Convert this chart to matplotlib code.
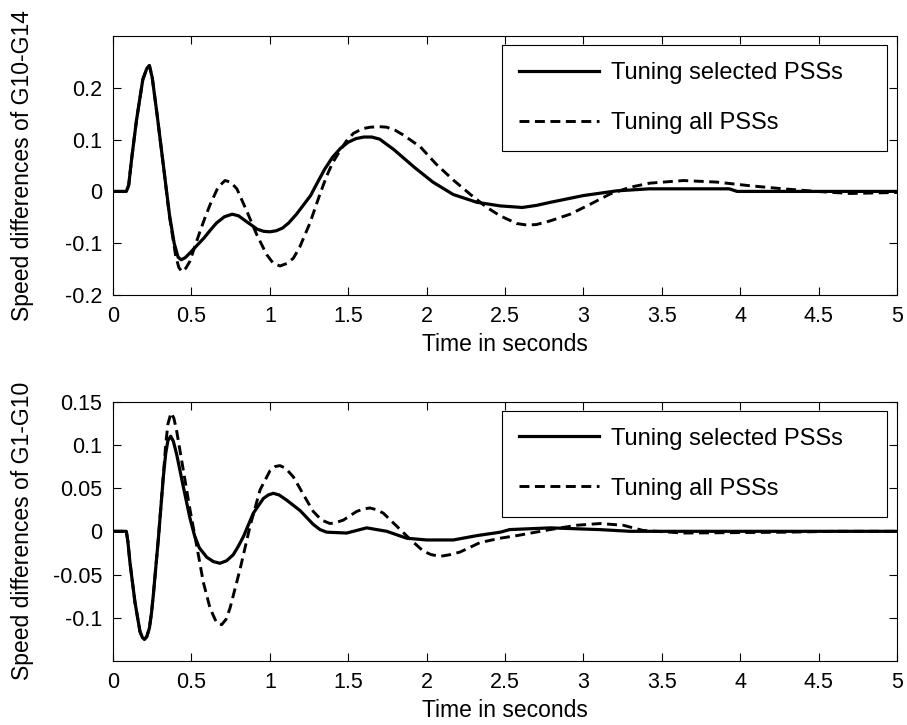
import matplotlib
matplotlib.use("Agg")
import matplotlib.pyplot as plt
from matplotlib.ticker import FuncFormatter

plt.rcParams['font.family'] = ['Liberation Sans', 'DejaVu Sans']
plt.rcParams['axes.unicode_minus'] = False

# Data
# G10-G14 (top panel)
t_sel_top = [0, 0.085, 0.10, 0.12, 0.15, 0.19, 0.215, 0.232, 0.25, 0.28, 0.32, 0.36, 0.39, 0.415,
             0.435, 0.46, 0.49, 0.53, 0.58, 0.62, 0.66, 0.71, 0.76, 0.80, 0.85, 0.92, 0.96, 1.00,
             1.04, 1.08, 1.12, 1.17, 1.21, 1.26, 1.30, 1.35, 1.40, 1.45, 1.50, 1.55, 1.60, 1.65,
             1.70, 1.79, 1.92, 2.04, 2.17, 2.32, 2.47, 2.61, 2.70, 2.79, 3.00, 3.21, 3.42, 3.93,
             3.98, 5.0]
y_sel_top = [0, 0, 0.012, 0.066, 0.138, 0.216, 0.237, 0.243, 0.22, 0.151, 0.053, -0.045, -0.100, -0.127,
             -0.132, -0.128, -0.119, -0.106, -0.090, -0.075, -0.061, -0.049, -0.044, -0.047, -0.058, -0.073, -0.077, -0.078,
             -0.076, -0.071, -0.061, -0.044, -0.028, -0.008, 0.015, 0.043, 0.066, 0.083, 0.095, 0.102, 0.105, 0.105,
             0.101, 0.081, 0.047, 0.018, -0.006, -0.021, -0.028, -0.031, -0.027, -0.021, -0.008, 0.001, 0.005, 0.005,
             0.0, 0.0]

t_all_top = [0, 0.085, 0.10, 0.12, 0.15, 0.19, 0.215, 0.232, 0.25, 0.28, 0.32, 0.36, 0.40, 0.42,
             0.44, 0.465, 0.49, 0.52, 0.555, 0.59, 0.62, 0.67, 0.714, 0.75, 0.79, 0.853, 0.916,
             0.98, 1.02, 1.065, 1.11, 1.15, 1.19, 1.256, 1.32, 1.363, 1.40, 1.448, 1.49, 1.533,
             1.59, 1.64, 1.70, 1.746, 1.80, 1.851, 1.96, 2.06, 2.17, 2.28, 2.38, 2.468, 2.575,
             2.64, 2.70, 2.787, 2.915, 3.042, 3.17, 3.297, 3.425, 3.637, 3.85, 4.06, 4.275, 4.488,
             4.70, 5.0]
y_all_top = [0, 0, 0.012, 0.066, 0.138, 0.216, 0.237, 0.243, 0.22, 0.151, 0.053, -0.048, -0.125, -0.147,
             -0.155, -0.148, -0.135, -0.108, -0.077, -0.048, -0.025, 0.008, 0.021, 0.018, 0.005, -0.038, -0.083,
             -0.122, -0.138, -0.144, -0.139, -0.129, -0.108, -0.061, -0.005, 0.030, 0.055, 0.079, 0.098, 0.112,
             0.121, 0.124, 0.125, 0.124, 0.118, 0.109, 0.086, 0.053, 0.022, -0.006, -0.030, -0.047, -0.062,
             -0.065, -0.064, -0.057, -0.044, -0.025, -0.005, 0.008, 0.016, 0.021, 0.018, 0.011, 0.005, 0.0,
             -0.004, -0.002]

# G1-G10 (bottom panel)
t_sel_bot = [0, 0.085, 0.095, 0.108, 0.140, 0.172, 0.188, 0.200, 0.215, 0.232, 0.245, 0.257, 0.289,
             0.321, 0.336, 0.350, 0.368, 0.385, 0.406, 0.449, 0.491, 0.52, 0.55, 0.598, 0.64, 0.682,
             0.725, 0.767, 0.80, 0.832, 0.895, 0.959, 0.99, 1.022, 1.06, 1.108, 1.193, 1.277, 1.32,
             1.363, 1.49, 1.618, 1.746, 1.873, 2.0, 2.17, 2.32, 2.47, 2.53, 2.79, 3.1, 3.3, 5.0]
y_sel_bot = [0, 0, -0.012, -0.036, -0.082, -0.116, -0.123, -0.125, -0.122, -0.112, -0.095, -0.074, -0.009,
             0.063, 0.090, 0.105, 0.110, 0.104, 0.089, 0.051, 0.015, -0.005, -0.019, -0.030, -0.035, -0.037,
             -0.034, -0.027, -0.017, -0.006, 0.021, 0.038, 0.042, 0.044, 0.042, 0.036, 0.024, 0.008, 0.002,
             -0.001, -0.002, 0.004, 0.0, -0.008, -0.010, -0.010, -0.005, -0.001, 0.002, 0.004, 0.002, 0.0, 0.0]

t_all_bot = [0, 0.085, 0.095, 0.108, 0.140, 0.172, 0.188, 0.200, 0.215, 0.232, 0.245, 0.257, 0.289,
             0.321, 0.336, 0.350, 0.370, 0.388, 0.406, 0.449, 0.491, 0.534, 0.576, 0.619, 0.661,
             0.693, 0.72, 0.746, 0.810, 0.874, 0.938, 1.001, 1.035, 1.065, 1.10, 1.150, 1.235, 1.277,
             1.33, 1.384, 1.42, 1.469, 1.554, 1.60, 1.639, 1.68, 1.724, 1.809, 1.894, 1.979, 2.03,
             2.085, 2.15, 2.213, 2.341, 2.468, 2.575, 2.787, 2.957, 3.106, 3.254, 3.38, 3.64, 4.3,
             4.6, 5.0]
y_all_bot = [0, 0, -0.012, -0.036, -0.082, -0.116, -0.123, -0.125, -0.122, -0.112, -0.095, -0.074, -0.009,
             0.065, 0.100, 0.124, 0.137, 0.131, 0.116, 0.070, 0.025, -0.017, -0.059, -0.089, -0.106,
             -0.108, -0.102, -0.089, -0.044, 0.006, 0.048, 0.070, 0.075, 0.076, 0.073, 0.063, 0.036, 0.023,
             0.013, 0.009, 0.010, 0.013, 0.023, 0.026, 0.027, 0.025, 0.021, 0.006, -0.009, -0.023, -0.027,
             -0.029, -0.027, -0.024, -0.013, -0.008, -0.005, 0.002, 0.007, 0.009, 0.007, 0.001, -0.002, -0.001,
             0.0, 0.0]

labels = ["Tuning selected PSSs", "Tuning all PSSs"]
x_ticks = [0, 0.5, 1, 1.5, 2, 2.5, 3, 3.5, 4, 4.5, 5]
top_yticks = [-0.2, -0.1, 0, 0.1, 0.2]
bot_yticks = [-0.1, -0.05, 0, 0.05, 0.1, 0.15]

fig = plt.figure(figsize=(9.07, 7.25), dpi=100)
ax1 = fig.add_axes([0.1246, 0.5931, 0.8644, 0.3572])
ax2 = fig.add_axes([0.1246, 0.0883, 0.8644, 0.3577])

fmt = FuncFormatter(lambda v, p: "%g" % round(v, 3))


def style(ax, yticks, ylim, ylabel, series):
    (ts, ys), (ta, ya) = series
    ax.plot(ts, ys, color='black', lw=2.3, solid_joinstyle='round', label=labels[0])
    ax.plot(ta, ya, color='black', lw=2.1, linestyle=(0, (3.4, 1.9)), label=labels[1])
    ax.set_xlim(0, 5)
    ax.set_ylim(*ylim)
    ax.set_xticks(x_ticks)
    ax.set_yticks(yticks)
    ax.xaxis.set_major_formatter(fmt)
    ax.yaxis.set_major_formatter(fmt)
    ax.tick_params(direction='in', top=True, right=True, length=6, width=0.8,
                   labelsize=15.5, pad=8)
    for sp in ax.spines.values():
        sp.set_linewidth(0.8)
    ax.set_xlabel("Time in seconds", fontsize=16.5, labelpad=4)
    ax.set_ylabel(ylabel, fontsize=16.5)
    ax.yaxis.set_label_coords(-0.1008, 0.5)
    leg = ax.legend(loc='upper left', bbox_to_anchor=(0.496, 0.557, 0.491, 0.408),
                    mode='expand', borderaxespad=0, fontsize=17, handlelength=3.4,
                    handletextpad=0.5, labelspacing=1.18, borderpad=0.72,
                    fancybox=False, framealpha=1, edgecolor='black')
    leg.get_frame().set_linewidth(0.8)


style(ax1, top_yticks, (-0.2, 0.3), "Speed differences of G10-G14",
      [(t_sel_top, y_sel_top), (t_all_top, y_all_top)])
style(ax2, bot_yticks, (-0.15, 0.15), "Speed differences of G1-G10",
      [(t_sel_bot, y_sel_bot), (t_all_bot, y_all_bot)])

fig.savefig("out.png", dpi=100)
